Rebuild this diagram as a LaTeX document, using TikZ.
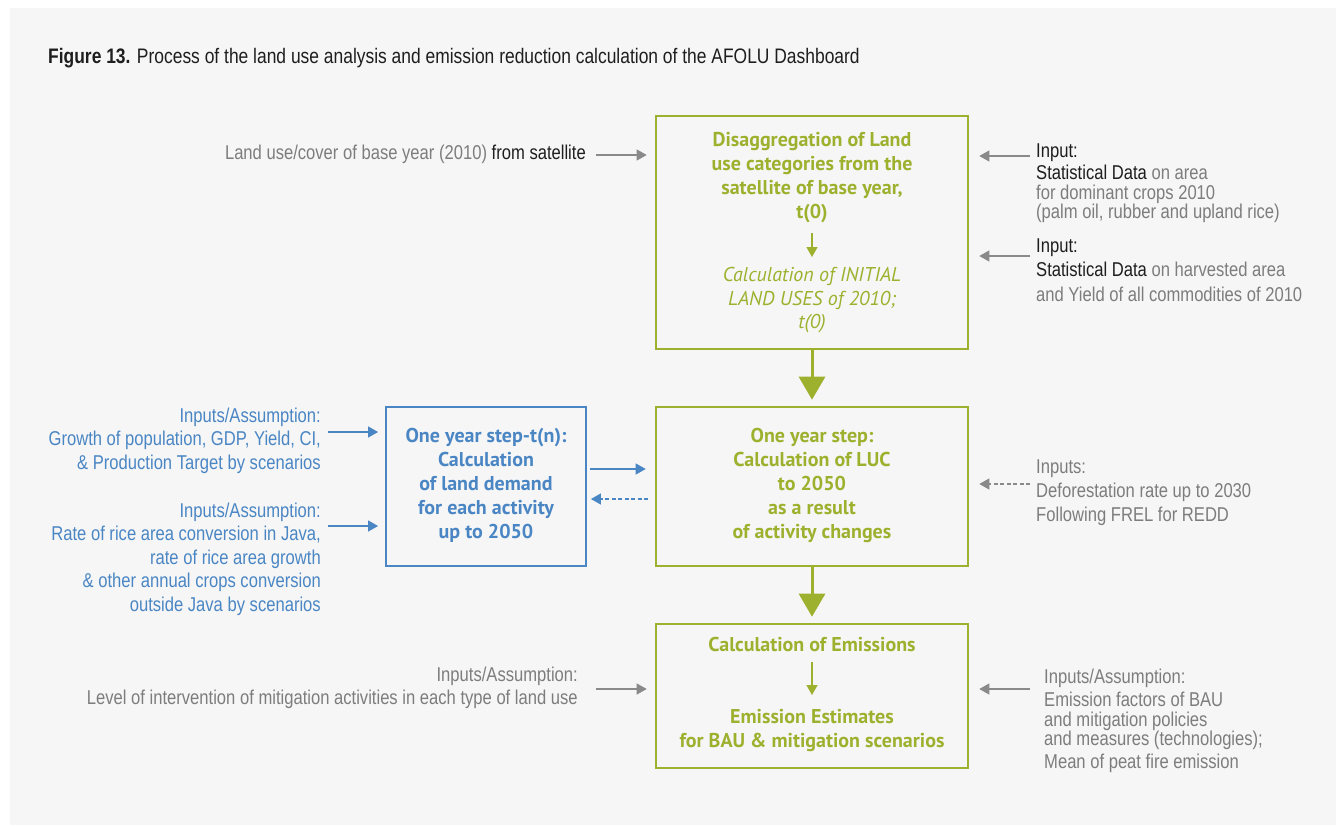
\documentclass[tikz,border=0pt]{standalone}
\usepackage{fontspec}
\setmainfont{Liberation Sans}
\newfontfamily\sidefont{Liberation Sans}[FakeStretch=0.83]
\newfontfamily\boxfont{PT Sans}
\usetikzlibrary{arrows.meta,calc,backgrounds}
\definecolor{afolubackground}{HTML}{F6F6F6}
\definecolor{afolugreen}{HTML}{9DB12E}
\definecolor{afolublue}{HTML}{4A86C4}
\definecolor{afolugray}{HTML}{7D7D7D}
\definecolor{afoludark}{HTML}{1E1E1E}
\definecolor{afoluarrow}{HTML}{8A8A8A}
\tikzset{
  afolu box/.style={
    rectangle, draw=afolugreen, line width=2.6pt,
    minimum width=312pt, inner sep=0pt
  },
  afolu demand box/.style={afolu box, draw=afolublue, line width=1.8pt, minimum width=200pt},
  afolu box text/.style={
    text=afolugreen, font=\boxfont\bfseries\fontsize{20}{24}\selectfont,
    align=center, inner sep=0pt, anchor=base
  },
  afolu box italic/.style={afolu box text, font=\boxfont\itshape\fontsize{20}{23.5}\selectfont},
  afolu side/.style={
    text=afolugray, font=\sidefont\fontsize{20}{23.5}\selectfont,
    inner sep=0pt
  },
  afolu side left/.style={afolu side, align=right, anchor=base east},
  afolu side right/.style={afolu side, align=left, anchor=base west},
  afolu line/.style={draw=afoluarrow, line width=1.2pt},
  afolu arrow/.style={afolu line, -{Triangle[length=10pt,width=11pt]}},
  afolu dashed arrow/.style={afolu arrow, dashed, dash pattern=on 4pt off 2.5pt},
  afolu flow/.style={
    draw=afolugreen, line width=3pt,
    -{Triangle[length=23pt,width=26pt]}, shorten >=6pt
  },
  afolu step/.style={draw=afolugreen, line width=1.3pt, -{Triangle[length=10pt,width=11pt]}}
}

\begin{document}
\begin{tikzpicture}[x=1pt,y=-1pt]
  \useasboundingbox (0,0) rectangle (1336,825);
  \fill[afolubackground] (10,8) rectangle (1336,825);

  \node[afolu side, text=afoludark, anchor=base west, font=\sidefont\fontsize{21}{24}\selectfont] (title) at (48,63)
    {\textbf{Figure 13.} Process of the land use analysis and emission reduction calculation of the AFOLU Dashboard};

  % The three main green steps of the dashboard.
  \node[afolu box, minimum height=233pt] (disagg) at (812,232.5) {};
  \node[afolu box, minimum height=159pt] (luc) at (812,486.5) {};
  \node[afolu box, minimum height=144pt] (emis) at (812,696) {};
  \node[afolu demand box, minimum height=159pt] (demand) at (486,486.5) {};

  % Multi-line texts sit on the baseline of their last line.
  \node[afolu box text] (disaggtext) at (812,218.5)
    {Disaggregation of Land\\use categories from the\\satellite of base year,\\t(0)};
  \node[afolu box italic] (initialtext) at (812,328.5)
    {Calculation of INITIAL\\LAND USES of 2010;\\t(0)};
  \node[afolu box text] (luctext) at (812,538)
    {One year step:\\Calculation of LUC\\to 2050\\as a result\\of activity changes};
  \node[afolu box text, text=afolublue] (demandtext) at (486,538)
    {One year step-t(n):\\Calculation\\of land demand\\for each activity\\up to 2050};
  \node[afolu box text] (calctext) at (812,651) {Calculation of Emissions};
  \node[afolu box text] (estimtext) at (812,747)
    {Emission Estimates\\for BAU \& mitigation scenarios};

  \draw[afolu step] (812,233) -- (812,257);
  \draw[afolu step] (812,662) -- (812,695);
  \draw[afolu flow] (disagg.south) -- (luc.north);
  \draw[afolu flow] (luc.south) -- (emis.north);

  % Exchange between land demand and land use change.
  \coordinate (demandout) at (590,469);
  \coordinate (lucback) at (648,499);
  \draw[afolu arrow, draw=afolublue, shorten >=9pt] (demandout) -- (demandout -| luc.west);
  \draw[afolu dashed arrow, draw=afolublue, shorten >=4pt] (lucback) -- (lucback -| demand.east);

  % Inputs on the left.
  \node[afolu side left] (landuse) at (586,159)
    {Land use/cover of base year (2010) \textcolor{afoludark}{from satellite}};
  \node[afolu side left, text=afolublue] (growth) at (321,469)
    {Inputs/Assumption:\\Growth of population, GDP, Yield, CI,\\\& Production Target by scenarios};
  \node[afolu side left, text=afolublue] (rice) at (321,611)
    {Inputs/Assumption:\\Rate of rice area conversion in Java,\\rate of rice area growth\\\& other annual crops conversion\\outside Java by scenarios};
  \node[afolu side left] (level) at (578,704.5)
    {Inputs/Assumption:\\Level of intervention of mitigation activities in each type of land use};

  % Inputs on the right.
  \node[afolu side right] (cropdata) at (1036,218.5)
    {\textcolor{afoludark}{Input:}\\[-1pt]\textcolor{afoludark}{Statistical Data} on area\\[-4pt]for dominant crops 2010\\[-4pt](palm oil, rubber and upland rice)};
  \node[afolu side right] (harvestdata) at (1036,301)
    {\textcolor{afoludark}{Input:}\\[1pt]\textcolor{afoludark}{Statistical Data} on harvested area\\[1pt]and Yield of all commodities of 2010};
  \node[afolu side right] (deforest) at (1036,521)
    {Inputs:\\[1pt]Deforestation rate up to 2030\\Following FREL for REDD};
  \node[afolu side right] (factors) at (1044,768)
    {Inputs/Assumption:\\Emission factors of BAU\\[-4pt]and mitigation policies\\[-4pt]and measures (technologies);\\[-1pt]Mean of peat fire emission};

  \coordinate (landusetail) at (596,155);
  \coordinate (growthtail) at (328,432);
  \coordinate (ricetail) at (328,526);
  \coordinate (leveltail) at (596,689);
  \coordinate (croptail) at (1030,156);
  \coordinate (harvesttail) at (1030,256);
  \coordinate (deforesttail) at (1030,484);
  \coordinate (factortail) at (1030,689);

  \draw[afolu arrow, shorten >=8pt] (landusetail) -- (landusetail -| disagg.west);
  \draw[afolu arrow, draw=afolublue, shorten >=7pt] (growthtail) -- (growthtail -| demand.west);
  \draw[afolu arrow, draw=afolublue, shorten >=7pt] (ricetail) -- (ricetail -| demand.west);
  \draw[afolu arrow, shorten >=8pt] (leveltail) -- (leveltail -| emis.west);
  \draw[afolu arrow, shorten >=10pt] (croptail) -- (croptail -| disagg.east);
  \draw[afolu arrow, shorten >=10pt] (harvesttail) -- (harvesttail -| disagg.east);
  \draw[afolu dashed arrow, shorten >=10pt] (deforesttail) -- (deforesttail -| luc.east);
  \draw[afolu arrow, shorten >=10pt] (factortail) -- (factortail -| emis.east);
\end{tikzpicture}
\end{document}
